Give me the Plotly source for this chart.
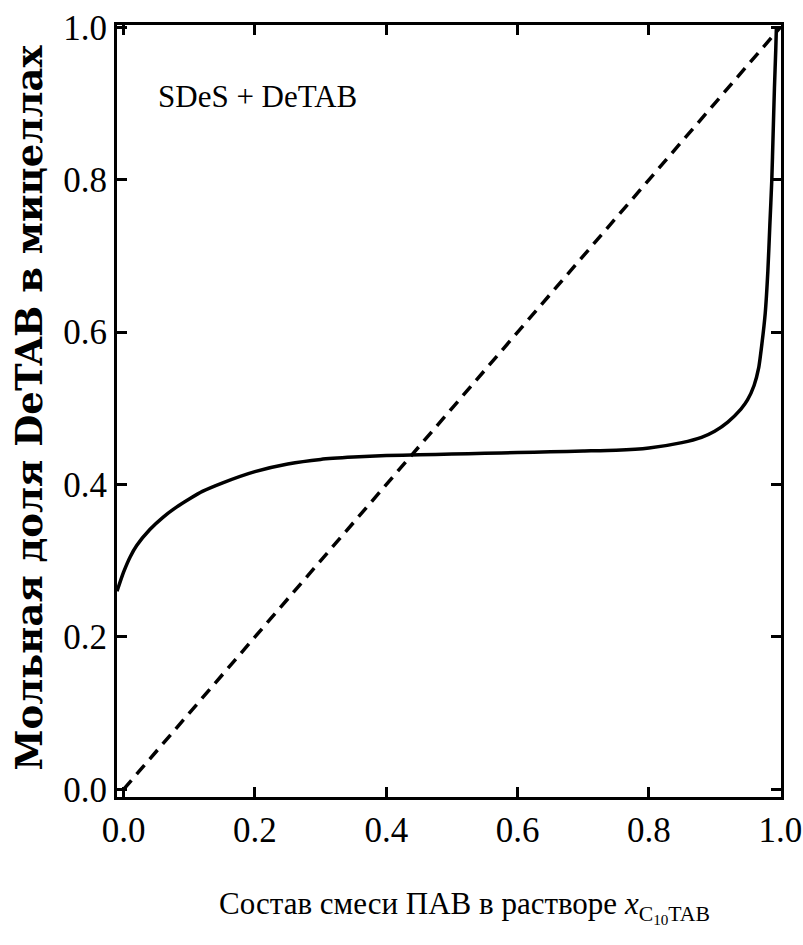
import plotly.graph_objects as go

# Data
x_curve = [-0.01, 0.0, 0.01, 0.02, 0.04, 0.06, 0.08, 0.10, 0.12, 0.15, 0.20,
           0.25, 0.30, 0.35, 0.40, 0.45, 0.50, 0.55, 0.60, 0.65, 0.70, 0.75,
           0.80, 0.85, 0.88, 0.90, 0.92, 0.94, 0.95, 0.96, 0.967, 0.972, 0.977,
           0.981, 0.984, 0.987, 0.989, 0.991, 0.993, 0.994]
y_curve = [0.26, 0.285, 0.305, 0.320, 0.341, 0.357, 0.370, 0.381, 0.391, 0.402, 0.417,
           0.427, 0.433, 0.436, 0.438, 0.439, 0.440, 0.441, 0.442, 0.443, 0.444, 0.445,
           0.448, 0.455, 0.462, 0.470, 0.482, 0.499, 0.511, 0.530, 0.553, 0.585, 0.625,
           0.68, 0.74, 0.80, 0.86, 0.92, 0.97, 1.0]
x_ideal = [0.0, 1.0]
y_ideal = [0.0, 1.0]
tick_vals = [0.0, 0.2, 0.4, 0.6, 0.8, 1.0]
tick_text = ["0.0", "0.2", "0.4", "0.6", "0.8", "1.0"]

SERIF = "Liberation Serif, Times New Roman, serif"

fig = go.Figure()
fig.add_trace(go.Scatter(x=x_ideal, y=y_ideal, mode="lines",
                         line=dict(color="black", width=3.5, dash="12px,8px"),
                         showlegend=False, hoverinfo="skip"))
fig.add_trace(go.Scatter(x=x_curve, y=y_curve, mode="lines", line_shape="spline",
                         line=dict(color="black", width=3.5, smoothing=0.6),
                         showlegend=False, hoverinfo="skip"))

axis_common = dict(showline=True, linecolor="black", linewidth=3, mirror="ticks",
                   ticks="inside", ticklen=10, tickwidth=3, tickcolor="black",
                   showgrid=False, zeroline=False, automargin=False,
                   tickvals=tick_vals, ticktext=tick_text,
                   tickfont=dict(family=SERIF, size=35, color="black"))

fig.update_xaxes(range=[-0.01, 1.001], **axis_common)
fig.update_yaxes(range=[-0.01, 1.003], **axis_common)

fig.update_layout(
    width=803, height=945,
    margin=dict(l=117, r=22, t=25, b=148),
    plot_bgcolor="white", paper_bgcolor="white",
    annotations=[
        dict(text="SDeS + DeTAB", xref="paper", yref="paper", x=0.212, y=0.907,
             showarrow=False, font=dict(family=SERIF, size=31, color="black"),
             xanchor="center", yanchor="middle"),
        dict(text="Состав смеси ПАВ в растворе <i>x</i><sub>C<sub>10</sub>TAB</sub>",
             xref="paper", yref="paper", x=0.524, y=-0.142,
             showarrow=False, font=dict(family=SERIF, size=31, color="black"),
             xanchor="center", yanchor="middle"),
        dict(text="<b>Мольная доля DeTAB в мицеллах</b>", xref="paper", yref="paper",
             x=-0.132, y=0.505, textangle=-90,
             showarrow=False, font=dict(family="DejaVu Serif, serif", size=37, color="black"),
             xanchor="center", yanchor="middle"),
    ],
)

fig.write_html("out.html")
